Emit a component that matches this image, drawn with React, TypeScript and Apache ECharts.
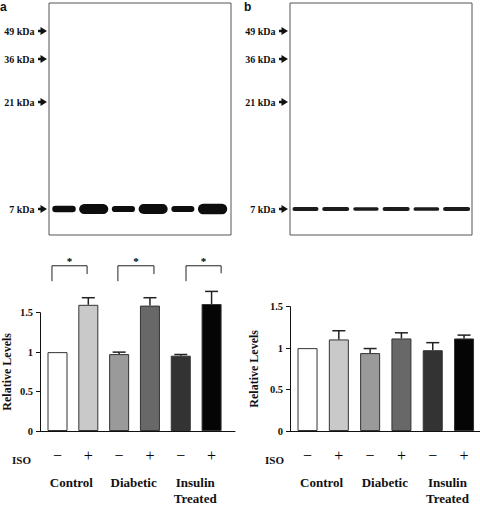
import React, { useEffect, useRef } from 'react';
import * as echarts from 'echarts';

// ---- data ----
const isoSigns = ['−', '+', '−', '+', '−', '+'];
const groups = ['Control', 'Diabetic', 'Insulin\nTreated'];
const groupCenters = [0.45, 2.47, 4.47];
const laneIndex = [0, 1, 2, 3, 4, 5];
const levelsA = [1.0, 1.6, 0.975, 1.59, 0.955, 1.61];
const errorsA = [0, 0.09, 0.025, 0.1, 0.015, 0.16];
const levelsB = [1.0, 1.105, 0.94, 1.117, 0.975, 1.117];
const errorsB = [0, 0.105, 0.055, 0.068, 0.091, 0.04];
const markerLabels = ['49 kDa', '36 kDa', '21 kDa', '7 kDa'];
const markerMigration = [28, 56, 99, 206];
const bandMigration = 206;
const sigBracketsA = [
  [-0.18, 0.96, 2.095, 1.9, 1.99],
  [1.96, 3.13, 2.095, 1.9, 1.99],
  [4.17, 5.31, 2.095, 1.9, 2.0],
];
const sigLabel = '*';
const yAxisName = 'Relative Levels';
const isoLabel = 'ISO';

const barColors = ['#ffffff', '#c9c9c9', '#9a9a9a', '#686868', '#333333', '#050505'];
const SERIF = '"Liberation Serif", "Times New Roman", serif';
const INK = '#111';

function gelSeries(xi: number, levels: number[], hK: number, w0: number, w1: number, color: string) {
  return [
    {
      type: 'custom',
      xAxisIndex: xi,
      yAxisIndex: xi,
      clip: false,
      data: levels.map((v, i) => [laneIndex[i], bandMigration, v]),
      renderItem: (params: any, api: any) => {
        const c = api.coord([api.value(0), api.value(1)]);
        const d = api.value(2);
        const h = d * hK;
        const w = w0 + w1 * d;
        return {
          type: 'rect',
          shape: { x: c[0] - w / 2, y: c[1] - h / 2, width: w, height: h, r: h / 2 },
          style: { fill: color },
        };
      },
    },
    {
      type: 'custom',
      xAxisIndex: xi,
      yAxisIndex: xi,
      clip: false,
      data: markerMigration.map((m, i) => [0, m, i]),
      renderItem: (params: any, api: any) => {
        const y = api.coord([0, api.value(1)])[1];
        const x0 = params.coordSys.x;
        return {
          type: 'group',
          children: [
            {
              type: 'text',
              style: {
                text: markerLabels[params.dataIndex],
                x: x0 - 14.5,
                y: y,
                align: 'right',
                textAlign: 'right',
                verticalAlign: 'middle',
                textVerticalAlign: 'middle',
                fontSize: 10,
                fontWeight: 'bold',
                fontFamily: SERIF,
                fill: INK,
              },
            },
            { type: 'rect', shape: { x: x0 - 11, y: y - 1.25, width: 3.5, height: 2.5 }, style: { fill: INK } },
            {
              type: 'polygon',
              shape: { points: [[x0 - 8.5, y - 4], [x0 - 2, y], [x0 - 8.5, y + 4]] },
              style: { fill: INK },
            },
          ],
        };
      },
    },
  ];
}

function barSeries(xi: number, levels: number[], errors: number[]) {
  return [
    {
      type: 'bar',
      xAxisIndex: xi,
      yAxisIndex: xi,
      barWidth: 20,
      clip: false,
      data: levels.map((v, i) => ({
        value: [laneIndex[i], v],
        itemStyle: { color: barColors[i], borderColor: '#333', borderWidth: 1 },
      })),
    },
    {
      type: 'custom',
      xAxisIndex: xi,
      yAxisIndex: xi,
      clip: false,
      z: 5,
      data: levels.map((v, i) => [laneIndex[i], v, v + errors[i]]),
      renderItem: (params: any, api: any) => {
        const x = api.value(0);
        const lo = api.coord([x, api.value(1)]);
        const hi = api.coord([x, api.value(2)]);
        if (api.value(2) - api.value(1) <= 0) return { type: 'group', children: [] };
        const st = { stroke: '#222', lineWidth: 1.5 };
        return {
          type: 'group',
          children: [
            { type: 'line', shape: { x1: lo[0], y1: lo[1], x2: hi[0], y2: hi[1] }, style: st },
            { type: 'line', shape: { x1: hi[0] - 6.5, y1: hi[1], x2: hi[0] + 6.5, y2: hi[1] }, style: st },
          ],
        };
      },
    },
  ];
}

function barAxes(gi: number, min: number, max: number, nameGap: number) {
  const x = [
    {
      type: 'value',
      gridIndex: gi,
      min,
      max,
      position: 'bottom',
      axisLine: { show: true, onZero: false, lineStyle: { color: INK, width: 1 } },
      axisTick: { show: false },
      splitLine: { show: false },
      axisLabel: {
        customValues: laneIndex,
        formatter: (v: number) => isoSigns[Math.round(v)] ?? '',
        margin: 16,
        fontSize: 16,
        fontFamily: SERIF,
        color: '#000',
      },
    },
    {
      type: 'value',
      gridIndex: gi,
      min,
      max,
      position: 'bottom',
      axisLine: { show: false },
      axisTick: { show: false },
      splitLine: { show: false },
      axisLabel: {
        customValues: groupCenters,
        formatter: (v: number) => {
          const k = groupCenters.findIndex((g) => Math.abs(g - v) < 1e-6);
          return k >= 0 ? groups[k] : '';
        },
        margin: 43,
        fontSize: 13,
        lineHeight: 16,
        fontWeight: 'bold',
        fontFamily: SERIF,
        color: INK,
      },
    },
  ];
  const y = {
    type: 'value',
    gridIndex: gi,
    min: 0,
    max: 1.5,
    interval: 0.5,
    name: yAxisName,
    nameLocation: 'middle',
    nameRotate: 90,
    nameGap,
    nameTextStyle: { fontFamily: SERIF, fontWeight: 'bold', fontSize: 12, color: INK },
    axisLine: { show: true, onZero: false, lineStyle: { color: INK, width: 1 } },
    axisTick: { show: true, length: 4, lineStyle: { color: INK } },
    splitLine: { show: false },
    axisLabel: { margin: 7, fontSize: 10.5, fontWeight: 'bold', fontFamily: SERIF, color: INK },
  };
  return { x, y };
}

export default function App() {
  const ref = useRef<HTMLDivElement>(null);
  useEffect(() => {
    if (!ref.current) return;
    const chart = echarts.init(ref.current, null, { renderer: 'svg' });
    const axA = barAxes(2, -0.568, 5.76, 27);
    const axB = barAxes(3, -0.56, 5.51, 30);
    const gelX = (min: number, max: number, gi: number) => ({ type: 'value', gridIndex: gi, min, max, show: false });
    const gelY = (gi: number) => ({ type: 'value', gridIndex: gi, min: 0, max: 232, inverse: true, show: false });
    const textStyle = (x: number, y: number, text: string, font: string, align = 'left') => ({
      type: 'text',
      x,
      y,
      style: { text, font, fill: INK, textAlign: align, align, textVerticalAlign: 'middle', verticalAlign: 'middle' },
    });
    chart.setOption({
      animation: false,
      grid: [
        { left: 49, top: 3, width: 182, height: 232, show: true, borderColor: '#555', borderWidth: 1, backgroundColor: 'rgba(0,0,0,0)' },
        { left: 290, top: 3, width: 182, height: 232, show: true, borderColor: '#555', borderWidth: 1, backgroundColor: 'rgba(0,0,0,0)' },
        { left: 40, top: 312.7, width: 195, height: 122.3 },
        { left: 290, top: 306.7, width: 190, height: 126.6 },
      ],
      xAxis: [gelX(-0.505, 5.62, 0), gelX(-0.513, 5.51, 1), axA.x[0], axB.x[0], axA.x[1], axB.x[1]],
      yAxis: [gelY(0), gelY(1), axA.y, axB.y],
      series: [
        ...gelSeries(0, levelsA, 6.4, 14, 9.5, '#0d0d0d'),
        ...gelSeries(1, levelsB, 3.8, 16, 10, '#1c1c1c'),
        ...barSeries(2, levelsA, errorsA),
        ...barSeries(3, levelsB, errorsB),
        {
          type: 'custom',
          xAxisIndex: 2,
          yAxisIndex: 2,
          clip: false,
          data: sigBracketsA,
          renderItem: (params: any, api: any) => {
            const tl = api.coord([api.value(0), api.value(2)]);
            const tr = api.coord([api.value(1), api.value(2)]);
            const bl = api.coord([api.value(0), api.value(3)]);
            const br = api.coord([api.value(1), api.value(4)]);
            return {
              type: 'group',
              children: [
                {
                  type: 'polyline',
                  shape: { points: [bl, tl, tr, br] },
                  style: { stroke: '#222', lineWidth: 1, fill: 'none' },
                },
                {
                  type: 'text',
                  style: {
                    text: sigLabel,
                    x: (tl[0] + tr[0]) / 2,
                    y: tl[1] - 5,
                    align: 'center',
                    textAlign: 'center',
                    verticalAlign: 'middle',
                    textVerticalAlign: 'middle',
                    fontSize: 11,
                    fontFamily: SERIF,
                    fontWeight: 'bold',
                    fill: '#000',
                  },
                },
              ],
            };
          },
        },
      ],
      graphic: [
        textStyle(0, 7, 'a', 'bold 12px "Liberation Sans", Arial, sans-serif'),
        textStyle(244, 7, 'b', 'bold 12px "Liberation Sans", Arial, sans-serif'),
        textStyle(12, 460, isoLabel, `bold 11px ${SERIF}`),
        textStyle(265, 460, isoLabel, `bold 11px ${SERIF}`),
      ],
    });
    return () => chart.dispose();
  }, []);
  return (
    <div
      ref={ref}
      style={{ position: 'fixed', left: 0, top: 0, width: 480, height: 506, background: '#fff' }}
    />
  );
}
